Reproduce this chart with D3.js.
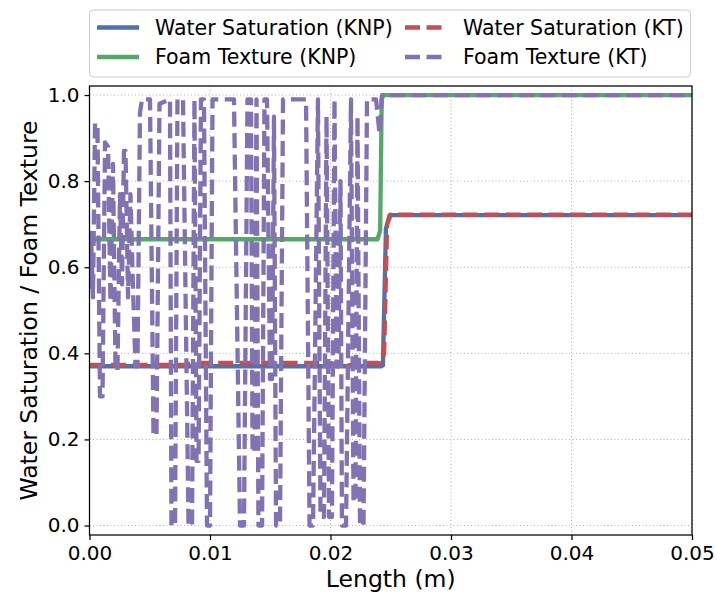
<!DOCTYPE html>
<html>
<head>
<meta charset="utf-8">
<script src="https://cdn.jsdelivr.net/npm/d3@7"></script>
<style>
  body { margin: 0; background: #fff; }
  text { font-family: "DejaVu Sans", sans-serif; fill: #000; }
</style>
</head>
<body>
<div id="sandbox"></div>
<script>
// Chart data

// x ticks and y ticks
var xTicks = [0.00, 0.01, 0.02, 0.03, 0.04, 0.05];
var yTicks = [0.0, 0.2, 0.4, 0.6, 0.8, 1.0];

// Water Saturation (KNP)
var lengthWsKnp = [0, 0.0242, 0.02435, 0.0246, 0.0249, 0.05];
var wsKnp       = [0.370, 0.370, 0.372, 0.69, 0.721, 0.721];

// Foam Texture (KNP)
var lengthFtKnp = [0, 0.0239, 0.02412, 0.02425, 0.0244, 0.05];
var ftKnp       = [0.665, 0.665, 0.685, 0.99, 1.0, 1.0];

// Water Saturation (KT)
var lengthWsKt = [0, 0.0080, 0.0085, 0.0200, 0.0205, 0.0210, 0.0215, 0.0225, 0.0239, 0.0242, 0.02445, 0.0247, 0.0250, 0.05];
var wsKt       = [0.373, 0.373, 0.378, 0.378, 0.372, 0.366, 0.372, 0.378, 0.378, 0.376, 0.40, 0.70, 0.722, 0.722];

// Foam Texture (KT)
var lengthFtKt = [0, 0.00012, 0.00029, 0.00046, 0.00066, 0.00087, 0.00108, 0.00129, 0.00154, 0.00174,
                  0.00195, 0.00216, 0.00232, 0.00253, 0.00270, 0.00286, 0.00299, 0.00320, 0.00340, 0.00361,
                  0.00382, 0.00398, 0.00419, 0.00436, 0.00502, 0.00531, 0.00556, 0.00581, 0.00668, 0.00680,
                  0.00710, 0.00730, 0.00776, 0.00822, 0.00851, 0.00871, 0.00888, 0.00905, 0.00925, 0.00950,
                  0.00975, 0.01000, 0.01021, 0.01124, 0.01199, 0.01249, 0.01282, 0.01311, 0.01340, 0.01353,
                  0.01369, 0.01386, 0.01402, 0.01432, 0.01452, 0.01473, 0.01498, 0.01515, 0.01531, 0.01548,
                  0.01581, 0.01606, 0.01797, 0.01826, 0.01855, 0.01896, 0.01917, 0.01946, 0.01967, 0.01988,
                  0.02012, 0.02033, 0.02050, 0.02066, 0.02083, 0.02095, 0.02129, 0.02170, 0.02191, 0.02207,
                  0.02224, 0.02245, 0.02274, 0.02303, 0.02378, 0.02407, 0.02427, 0.05];
var ftKt       = [0.55, 0.68, 0.53, 0.935, 0.93, 0.30, 0.30, 0.89, 0.88, 0.52,
                  0.84, 0.36, 0.36, 0.77, 0.56, 0.87, 0.87, 0.53, 0.77, 0.55,
                  0.37, 0.37, 0.96, 0.99, 0.99, 0.21, 0.21, 0.98, 0.99, 0.0,
                  0.0, 0.99, 0.99, 0.0, 0.0, 0.99, 0.15, 0.15, 0.99, 0.99,
                  0.0, 0.0, 0.99, 0.99, 0.99, 0.0, 0.0, 0.99, 0.99, 0.17,
                  0.17, 0.99, 0.0, 0.0, 0.99, 0.99, 0.34, 0.34, 0.95, 0.0,
                  0.0, 0.99, 0.99, 0.0, 0.0, 0.99, 0.02, 0.02, 0.95, 0.02,
                  0.02, 0.99, 0.37, 0.37, 0.80, 0.0, 0.0, 0.99, 0.055, 0.055,
                  0.95, 0.0, 0.0, 0.99, 0.99, 0.91, 1.0, 1.0];

var seriesNames = ['Water Saturation (KNP)', 'Foam Texture (KNP)', 'Water Saturation (KT)', 'Foam Texture (KT)'];

var width = 717, height = 600;
var margin = {top: 86, right: 25, bottom: 65, left: 89.5};

var svg = d3.select('#sandbox').append('svg')
    .attr('width', width)
    .attr('height', height);

var x = d3.scaleLinear().domain([0, 0.05]).range([margin.left, width - margin.right]);
var y = d3.scaleLinear().domain([-0.022, 1.021]).range([height - margin.bottom, margin.top]);

// grid
svg.append('g').selectAll('line')
    .data(xTicks).enter().append('line')
    .attr('x1', function(d) { return x(d); })
    .attr('x2', function(d) { return x(d); })
    .attr('y1', y.range()[0]).attr('y2', y.range()[1])
    .style('stroke', '#b0b0b0').style('stroke-width', 1).style('stroke-dasharray', '1,2.5');

svg.append('g').selectAll('line')
    .data(yTicks).enter().append('line')
    .attr('x1', x.range()[0]).attr('x2', x.range()[1])
    .attr('y1', function(d) { return y(d); })
    .attr('y2', function(d) { return y(d); })
    .style('stroke', '#b0b0b0').style('stroke-width', 1).style('stroke-dasharray', '1,2.5');

// clip to the axes box
svg.append('clipPath').attr('id', 'clip').append('rect')
    .attr('x', x.range()[0]).attr('y', y.range()[1])
    .attr('width', x.range()[1] - x.range()[0])
    .attr('height', y.range()[0] - y.range()[1]);

function makeLine(xs, ys) {
    return d3.line()
        .x(function(d, i) { return x(xs[i]); })
        .y(function(d, i) { return y(ys[i]); })(ys);
}

var lines = [
    {xs: lengthWsKnp, ys: wsKnp, color: '#4c72b0', dash: null},
    {xs: lengthFtKnp, ys: ftKnp, color: '#55a868', dash: null},
    {xs: lengthWsKt, ys: wsKt, color: '#c44e52', dash: '15,6.5'},
    {xs: lengthFtKt, ys: ftKt, color: '#8172b2', dash: '15,6.5'}
];

var plot = svg.append('g').attr('clip-path', 'url(#clip)');
lines.forEach(function(s) {
    plot.append('path')
        .attr('d', makeLine(s.xs, s.ys))
        .style('fill', 'none')
        .style('stroke', s.color)
        .style('stroke-width', 4.3)
        .style('stroke-linejoin', 'round')
        .style('stroke-dasharray', s.dash);
});

// axes
var xAxis = d3.axisBottom(x).tickValues(xTicks).tickFormat(d3.format('.2f')).tickSize(5).tickPadding(6);
var yAxis = d3.axisLeft(y).tickValues(yTicks).tickFormat(d3.format('.1f')).tickSize(5).tickPadding(5);

var gx = svg.append('g').attr('transform', 'translate(0,' + y.range()[0] + ')').call(xAxis);
var gy = svg.append('g').attr('transform', 'translate(' + x.range()[0] + ',0)').call(yAxis);
[gx, gy].forEach(function(g) {
    g.select('.domain').remove();
    g.selectAll('line').style('stroke', '#000').style('stroke-width', 1.25);
    g.selectAll('text').style('font-size', '20px').style('font-family', '"DejaVu Sans"');
});

// frame
svg.append('rect')
    .attr('x', x.range()[0]).attr('y', y.range()[1])
    .attr('width', x.range()[1] - x.range()[0])
    .attr('height', y.range()[0] - y.range()[1])
    .style('fill', 'none').style('stroke', '#000').style('stroke-width', 1.25);

// axis labels
svg.append('text')
    .attr('x', (x.range()[0] + x.range()[1]) / 2)
    .attr('y', 587)
    .attr('text-anchor', 'middle')
    .style('font-size', '23.5px')
    .text('Length (m)');

svg.append('text')
    .attr('transform', 'translate(37,' + (y.range()[0] + y.range()[1]) / 2 + ') rotate(-90)')
    .attr('text-anchor', 'middle')
    .style('font-size', '23.5px')
    .text('Water Saturation / Foam Texture');

// legend
var legend = svg.append('g');
legend.append('rect')
    .attr('x', 89.5).attr('y', 10).attr('width', 601).attr('height', 67).attr('rx', 4)
    .style('fill', '#fff').style('fill-opacity', 0.8)
    .style('stroke', '#cccccc').style('stroke-width', 1);

var legendPos = [[97, 27.5], [97, 57], [405, 27.5], [405, 57]];
lines.forEach(function(s, i) {
    var p = legendPos[i];
    legend.append('line')
        .attr('x1', p[0]).attr('x2', p[0] + 42)
        .attr('y1', p[1]).attr('y2', p[1])
        .style('stroke', s.color).style('stroke-width', 4.3)
        .style('stroke-dasharray', s.dash);
    legend.append('text')
        .attr('x', p[0] + 58).attr('y', p[1])
        .attr('dy', '0.35em')
        .style('font-size', '20.5px')
        .text(seriesNames[i]);
});
</script>
</body>
</html>
